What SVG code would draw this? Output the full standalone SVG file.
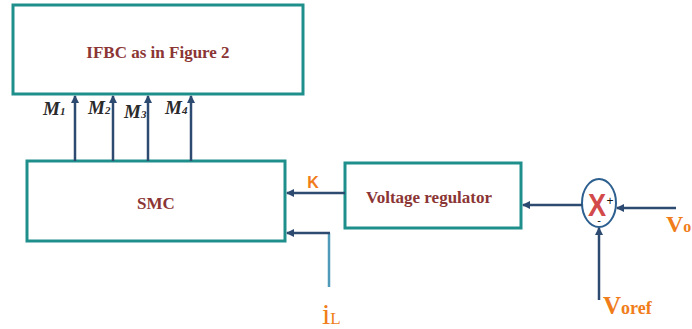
<svg xmlns="http://www.w3.org/2000/svg" width="692" height="329" viewBox="0 0 692 329">
<style>
.box{fill:#fff;stroke:#1f8f8c;stroke-width:3}
.ln{fill:none;stroke:#2d4a70;stroke-width:2.5}
.lt{fill:none;stroke:#4f9ab8;stroke-width:2.5}
.t{font-family:"Liberation Serif",serif;font-weight:bold;font-size:17px;fill:#8b3535;text-anchor:middle}
.m{font-family:"Liberation Serif",serif;font-weight:bold;font-style:italic;font-size:19px;fill:#2a2a2a}
.o{font-family:"Liberation Serif",serif;fill:#f07d1a}
</style>
<defs>
<marker id="ah" markerWidth="8" markerHeight="8" refX="7" refY="4" orient="auto" markerUnits="userSpaceOnUse">
<path d="M0,0 L8,4 L0,8 Z" fill="#2d4a70"/>
</marker>
</defs>
<g id="ifbc">
<rect class="box" x="13" y="5" width="290" height="89"/>
<text class="t" x="158" y="58">IFBC as in Figure 2</text>
</g>
<g id="smc">
<rect class="box" x="27" y="161" width="258" height="80"/>
<text class="t" x="156" y="209">SMC</text>
</g>
<g id="vr">
<rect class="box" x="345" y="163" width="176" height="65"/>
<text class="t" x="429" y="203">Voltage regulator</text>
</g>
<g id="sum">
<ellipse cx="599" cy="203" rx="17" ry="24" fill="#fff" stroke="#2d5f8f" stroke-width="2"/>
<text x="597" y="216" font-family="Liberation Sans,sans-serif" font-weight="bold" font-size="32" fill="#d24a4a" text-anchor="middle" transform="translate(597 0) scale(0.85 1) translate(-597 0)">X</text>
<text x="610" y="205" font-family="Liberation Sans,sans-serif" font-size="12" fill="#111" text-anchor="middle">+</text>
<text x="599" y="224" font-family="Liberation Sans,sans-serif" font-size="11" fill="#111" text-anchor="middle">-</text>
</g>
<g id="connectors">
<line class="ln" x1="75" y1="161" x2="75" y2="96" marker-end="url(#ah)"/>
<line class="ln" x1="113" y1="161" x2="113" y2="96" marker-end="url(#ah)"/>
<line class="ln" x1="148" y1="161" x2="148" y2="96" marker-end="url(#ah)"/>
<line class="ln" x1="191" y1="161" x2="191" y2="96" marker-end="url(#ah)"/>
<line class="ln" x1="345" y1="193" x2="287" y2="193" marker-end="url(#ah)"/>
<line class="lt" x1="329" y1="287" x2="329" y2="233"/>
<polyline class="ln" points="330,233 287,233" marker-end="url(#ah)"/>
<line class="ln" x1="582" y1="205" x2="523" y2="205" marker-end="url(#ah)"/>
<line class="ln" x1="676" y1="208" x2="617" y2="208" marker-end="url(#ah)"/>
<line class="ln" x1="599" y1="300" x2="599" y2="228" marker-end="url(#ah)"/>
</g>
<g id="labels">
<text class="m" x="43" y="115">M<tspan font-size="11">1</tspan></text>
<text class="m" x="88" y="114">M<tspan font-size="11">2</tspan></text>
<text class="m" x="124" y="118">M<tspan font-size="11">3</tspan></text>
<text class="m" x="165" y="114">M<tspan font-size="11">4</tspan></text>
<text x="313" y="188" font-family="Liberation Sans,sans-serif" font-weight="bold" font-size="16" fill="#f07d1a" text-anchor="middle">K</text>
<text class="o" x="322" y="324" font-size="30">i<tspan font-size="17">L</tspan></text>
<text class="o" x="666" y="232" font-weight="bold" font-size="24">V<tspan font-size="16">o</tspan></text>
<text class="o" x="603" y="314" font-weight="bold" font-size="25">V<tspan font-size="18">oref</tspan></text>
</g>
</svg>
